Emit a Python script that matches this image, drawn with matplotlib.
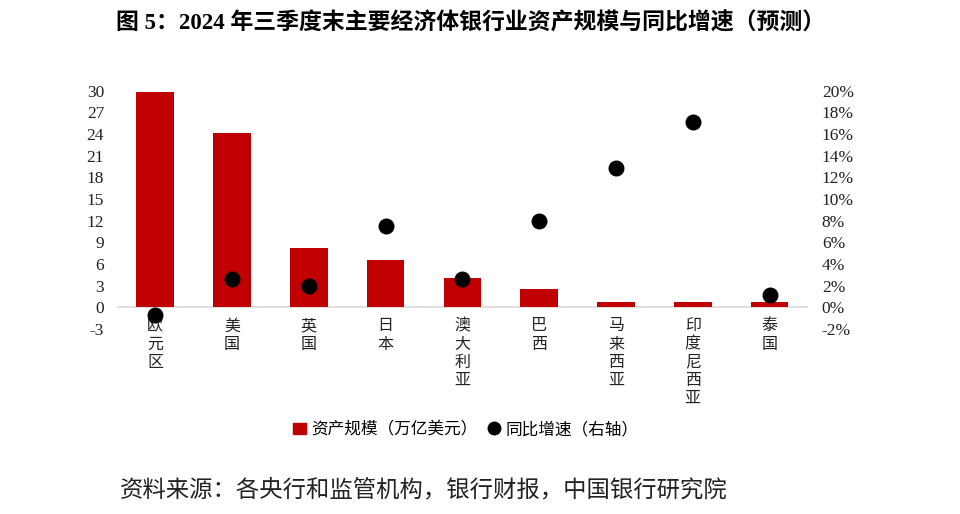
#!/usr/bin/env python3
"""Bank assets and YoY growth of major economies, end of 2024 Q3 (forecast)."""

import matplotlib

matplotlib.use("Agg")
import matplotlib.pyplot as plt
from matplotlib.lines import Line2D
from matplotlib.patches import Patch
from matplotlib.ticker import FuncFormatter

plt.rcParams["font.family"] = ["Liberation Serif", "Noto Sans CJK SC", "DejaVu Sans"]
plt.rcParams["axes.unicode_minus"] = False

countries = ["欧元区", "美国", "英国", "日本", "澳大利亚", "巴西", "马来西亚", "印度尼西亚", "泰国"]
assets = [29.8, 24.1, 8.2, 6.55, 4.05, 2.6, 0.78, 0.78, 0.7]  # 万亿美元
growth = [-0.74, 2.6, 2.0, 7.5, 2.6, 8.0, 12.9, 17.1, 1.1]  # %

left_ticks = list(range(-3, 31, 3))
right_ticks = list(range(-2, 21, 2))

RED = "#C00000"

fig = plt.figure(figsize=(9.6, 5.14), dpi=100)
ax = fig.add_axes([0.1216, 0.36, 0.72, 0.4635])
ax2 = ax.twinx()

x = list(range(len(countries)))
ax.bar(x, assets, width=0.49, color=RED, zorder=2)
ax.axhline(0, color="#D9D9D9", linewidth=1.2, zorder=1)
ax2.scatter(x, growth, s=110, color="black", zorder=3)

ax.set_xlim(-0.5, len(countries) - 0.5)
ax.set_ylim(-3, 30)
ax2.set_ylim(-2, 20)
ax.set_yticks(left_ticks)
ax2.set_yticks(right_ticks)
ax2.yaxis.set_major_formatter(FuncFormatter(lambda v, _: f"{v:.0f}%"))
ax.set_xticks([])

for a in (ax, ax2):
    for side in a.spines.values():
        side.set_visible(False)
    a.tick_params(axis="y", length=0, labelsize=12.5, colors="#222222")
ax.tick_params(axis="y", pad=9)
ax2.tick_params(axis="y", pad=10)

for i, name in enumerate(countries):
    ax.annotate("\n".join(name), xy=(i, 0), xytext=(0, -8), textcoords="offset points",
                ha="center", va="top", fontsize=11.5, linespacing=1.18, color="#222222")

fig.text(0.49, 0.955, "图 5：2024 年三季度末主要经济体银行业资产规模与同比增速（预测）",
         ha="center", va="center", fontsize=16.5, fontweight="bold")

handles = [
    Patch(facecolor=RED, edgecolor=RED),
    Line2D([], [], marker="o", linestyle="none", color="black", markersize=9),
]
fig.legend(handles, ["资产规模（万亿美元）", "同比增速（右轴）"], loc="center",
           bbox_to_anchor=(0.485, 0.163), ncol=2, frameon=False, fontsize=12,
           handlelength=0.8, handletextpad=0.3, columnspacing=0.6)

fig.text(0.125, 0.047, "资料来源：各央行和监管机构，银行财报，中国银行研究院",
         ha="left", va="center", fontsize=16.8, color="#222222")

fig.savefig("out.png", dpi=100)
